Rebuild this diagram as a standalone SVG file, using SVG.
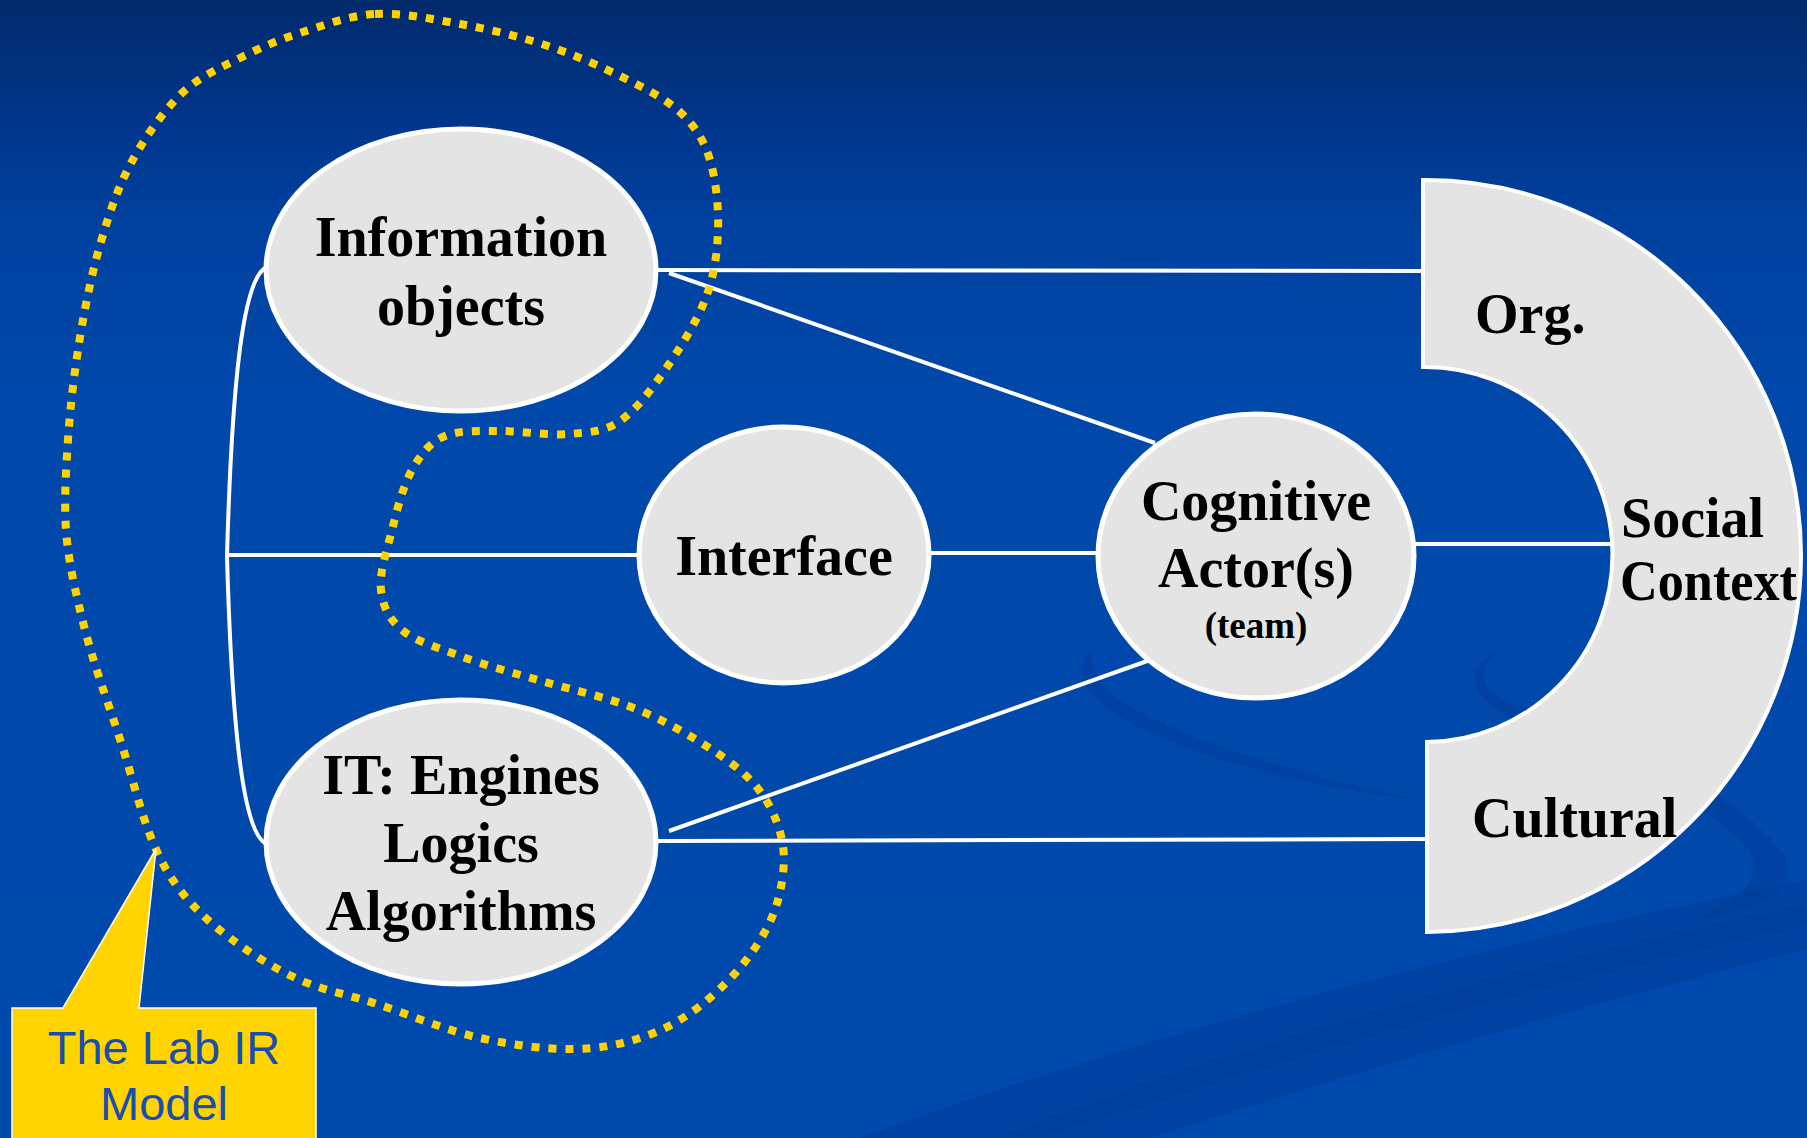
<svg xmlns="http://www.w3.org/2000/svg" width="1807" height="1138" viewBox="0 0 1807 1138">
  <defs>
    <linearGradient id="bg" x1="0" y1="0" x2="0" y2="1">
      <stop offset="0" stop-color="#022a6b"/>
      <stop offset="0.1" stop-color="#01358a"/>
      <stop offset="0.2" stop-color="#0041a0"/>
      <stop offset="0.35" stop-color="#0048aa"/>
      <stop offset="1" stop-color="#004aad"/>
    </linearGradient>
    <style>
      .node { fill: #e4e4e4; stroke: #ffffff; stroke-width: 5; }
      .ctx { fill: #e4e4e4; stroke: #ffffff; stroke-width: 4; stroke-linejoin: miter; }
      .label { font-family: "Liberation Serif", "Times New Roman", serif; font-weight: bold; font-size: 56px; fill: #000000; text-anchor: middle; }
      .label-l { font-family: "Liberation Serif", "Times New Roman", serif; font-weight: bold; font-size: 56px; fill: #000000; }
      .small { font-size: 37px; }
      .link { fill: none; stroke: #ffffff; stroke-width: 4; }
      .swoosh { fill: #003a95; opacity: 0.45; }
      .boundary { fill: none; stroke: #ffd200; stroke-width: 8; stroke-dasharray: 8 9; }
      .callout { fill: #ffd400; stroke: #ffffff; stroke-width: 1.5; }
      .callout-text { font-family: "Liberation Sans", Arial, sans-serif; font-size: 47px; fill: #1a4db0; text-anchor: middle; }
    </style>
  </defs>

  <!-- background -->
  <rect x="0" y="0" width="1807" height="1138" fill="url(#bg)"/>
  <g id="background-swooshes">
    <path class="swoosh" d="M860,1138 C1100,1050 1450,950 1807,880 L1807,925 C1500,990 1250,1070 1040,1138 Z"/>
    <path class="swoosh" d="M1000,1138 C1250,1040 1550,960 1807,905 L1807,950 C1560,1010 1300,1090 1150,1138 Z" opacity="0.3"/>
    <path class="swoosh" d="M1500,651 C1470,670 1480,700 1540,712 C1620,740 1740,790 1785,857 C1800,890 1760,910 1698,919 C1750,895 1770,870 1740,840 C1690,790 1600,760 1540,730 C1470,705 1455,670 1500,651 Z"/>
    <path class="swoosh" d="M1091,651 C1070,675 1085,700 1140,728 C1230,770 1330,790 1420,800 C1330,780 1230,755 1160,722 C1110,700 1090,680 1091,651 Z" opacity="0.35"/>
  </g>

  <!-- connectors -->
  <g id="connectors">
    <path class="link" d="M657,270 L1423,271"/>
    <path class="link" d="M669,273 L1155,443"/>
    <path class="link" stroke-width="3" d="M265,268 C243,282 232,380 227,556 C232,730 243,830 265,843"/>
    <path class="link" d="M227,555 L640,555"/>
    <path class="link" d="M929,553 L1112,553"/>
    <path class="link" d="M1415,544 L1628,544"/>
    <path class="link" d="M669,831 L1150,660"/>
    <path class="link" d="M657,841 L1427,839"/>
  </g>

  <!-- Social context: half ring split into Org. / Social Context / Cultural -->
  <g id="social-context">
    <path class="ctx" d="M1423,180 A376,376 0 0 1 1427,932 L1427,742 A187,187 0 0 0 1423,367 Z"/>
    <text class="label-l" x="1475" y="333">Org.</text>
    <text class="label-l" x="1621" y="537">Social</text>
    <text class="label-l" x="1620" y="600" textLength="177" lengthAdjust="spacingAndGlyphs">Context</text>
    <text class="label-l" x="1472" y="837">Cultural</text>
  </g>

  <g id="information-objects">
    <ellipse class="node" cx="461" cy="270" rx="195" ry="141"/>
    <text class="label" x="461" y="256">Information</text>
    <text class="label" x="461" y="325">objects</text>
  </g>

  <g id="interface">
    <ellipse class="node" cx="784" cy="555" rx="145" ry="128"/>
    <text class="label" x="784" y="575">Interface</text>
  </g>

  <g id="cognitive-actors">
    <ellipse class="node" cx="1256" cy="556" rx="158" ry="142"/>
    <text class="label" x="1256" y="520">Cognitive</text>
    <text class="label" x="1256" y="587">Actor(s)</text>
    <text class="label small" x="1256" y="638">(team)</text>
  </g>

  <g id="it-engines">
    <ellipse class="node" cx="461" cy="842" rx="195" ry="142"/>
    <text class="label" x="461" y="794">IT: Engines</text>
    <text class="label" x="461" y="862">Logics</text>
    <text class="label" x="461" y="930">Algorithms</text>
  </g>

  <!-- dotted boundary of the lab model -->
  <g id="lab-boundary">
    <path class="boundary" d="M375,14 C402,12.5 432,19 460,24 S518,36 545,45 S598,65 620,76 S665,98 680,112 S704,140 710,160 S719,209 718,232 S714,277 705,300 S679,350 665,370 S636,410 620,421 S590,432 570,434 S521,431 500,431 S460,430 445,436 S421,454 412,470 S397,510 392,530 S379,573 381,590 S389,619 402,630 S436,647 460,656 S517,674 545,682 S605,697 631,707 S679,729 700,742 S741,769 755,785 S778,821 782,840 S783,881 778,900 S763,937 750,955 S718,992 700,1006 S662,1031 640,1038 S597,1049 570,1049 S512,1045 480,1038 S410,1015 380,1005 S325,991 300,980 S250,953 230,938 S193,907 180,890 S159,858 150,835 S133,781 125,755 S108,704 100,680 S86,635 80,610 S68,558 66,530 S66,470 68,440 S73,383 78,350 S91,276 100,245 S117,190 130,165 S162,113 180,95 S220,68 240,58 S278,40 300,33 S348,15.5 375,14 Z"/>
  </g>

  <!-- callout label -->
  <g id="lab-callout">
    <path class="callout" d="M12,1008 L63,1008 L156,849 L139,1008 L316,1008 L316,1140 L12,1140 Z"/>
    <text class="callout-text" x="164" y="1064">The Lab IR</text>
    <text class="callout-text" x="164" y="1120">Model</text>
  </g>
</svg>
